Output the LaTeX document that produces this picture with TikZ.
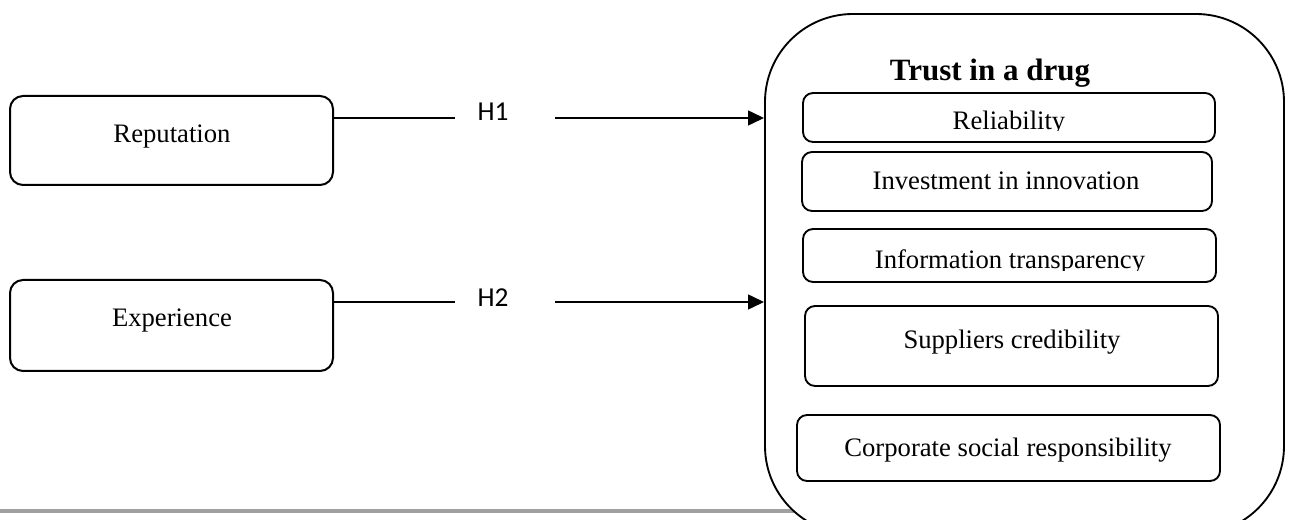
\documentclass[tikz,border=0pt]{standalone}
\usepackage{fontspec}
\setmainfont{Liberation Serif}
\newfontfamily\hfont{Carlito}
\usetikzlibrary{arrows.meta,fit}
\definecolor{rulegray}{RGB}{160,160,160}
\begin{document}
\begin{tikzpicture}[x=0.75pt,y=-0.75pt,
  outerbox/.style={draw, line width=1.5pt, rounded corners=9.75pt, inner sep=0pt, fill=white},
  innerbox/.style={draw, line width=1.4pt, rounded corners=7.5pt, inner sep=0pt, fill=white},
  bigbox/.style={draw, line width=1.4pt, rounded corners=66pt, inner sep=0pt, fill=white},
  label/.style={anchor=base, inner sep=0pt, font=\fontsize{20}{24}\selectfont},
  hlabel/.style={anchor=base, inner sep=0pt, font=\hfont\fontsize{20.5}{24}\selectfont},
  titlelabel/.style={anchor=base, inner sep=0pt, font=\fontsize{23.25}{28}\selectfont\bfseries},
  conn/.style={line width=1.8pt},
  arr/.style={line width=1.8pt, -{Triangle[length=12pt,width=11pt]}},
  rule/.style={line width=3.5pt, draw=rulegray}]
\useasboundingbox (0,0) rectangle (1290,520);
\clip (0,0) rectangle (1290,520);
% grey rule
\coordinate (g1) at (0,511);
\coordinate (g2) at (800,511);
\draw[rule] (g1) -- (g2);
% big box
\node[bigbox, fit={(765,14) (1284,534)}] (trust) {};
\node[titlelabel] (title) at (990,81) {Trust in a drug};
% inner boxes
\node[innerbox, fit={(803,93) (1215,142)}] (rel) {};
\node[innerbox, fit={(802,152) (1212,211)}] (inv) {};
\node[innerbox, fit={(803,229) (1216,282)}] (inf) {};
\node[innerbox, fit={(805,306) (1218,386)}] (sup) {};
\node[innerbox, fit={(797,415) (1220,481)}] (csr) {};
\begin{scope}
  \clip (803,93) rectangle (1215,131);
  \node[label] (reltxt) at (1009,130) {Reliability};
\end{scope}
\node[label] (invtxt) at (1006,190) {Investment in innovation};
\begin{scope}
  \clip (803,229) rectangle (1216,271);
  \node[label] (inftxt) at (1010,269) {Information transparency};
\end{scope}
\node[label] (suptxt) at (1012,349) {Suppliers credibility};
\node[label] (csrtxt) at (1008,456) {Corporate social responsibility};
% left boxes
\node[outerbox, fit={(10,96) (333,185)}] (rep) {};
\node[outerbox, fit={(10,280) (333,371)}] (exp) {};
\node[label] (reptxt) at (172,143) {Reputation};
\node[label] (exptxt) at (172,327) {Experience};
% connectors
\coordinate (h1l) at (455,118);
\coordinate (h1r) at (555,118);
\coordinate (h2l) at (455,302);
\coordinate (h2r) at (555,302);
\node[hlabel] (h1) at (493,121) {H1};
\node[hlabel] (h2) at (493,307) {H2};
\draw[conn] (rep.east |- h1l) -- (h1l);
\draw[arr] (h1r) -- (trust.west |- h1r);
\draw[conn] (exp.east |- h2l) -- (h2l);
\draw[arr] (h2r) -- (trust.west |- h2r);
\end{tikzpicture}
\end{document}
